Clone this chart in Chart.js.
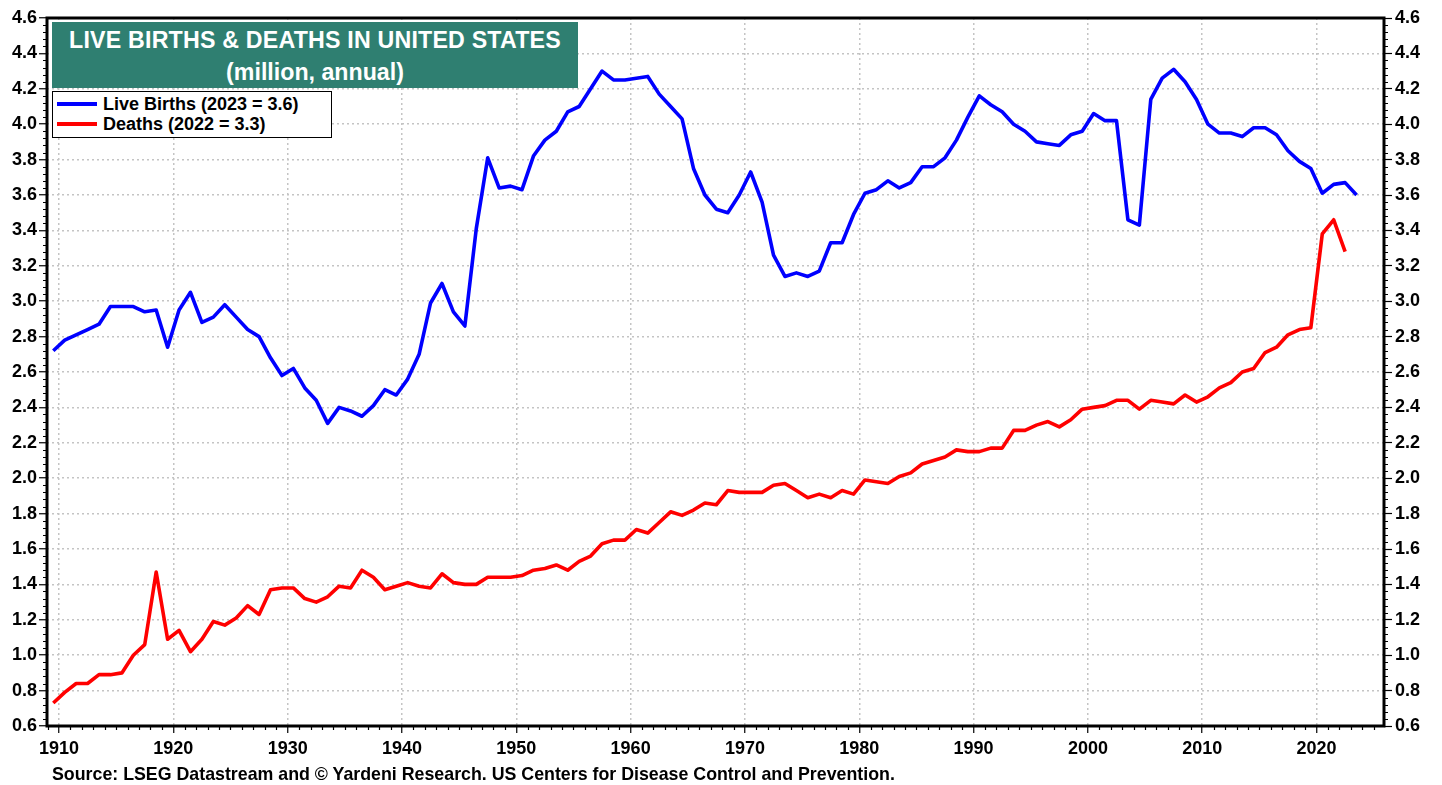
<!DOCTYPE html>
<html>
<head>
<meta charset="utf-8">
<script src="https://cdn.jsdelivr.net/npm/chart.js@4.4.1/dist/chart.umd.min.js"></script>
<style>
  body { margin: 0; background: #fff; }
  #wrap { position: relative; width: 1442px; height: 785px; overflow: hidden; font-family: "Liberation Sans", Arial, sans-serif; }
  #c { position: absolute; left: 0; top: 0; }
  #title { position: absolute; left: 52px; top: 22px; width: 526px; height: 66px; background: #2f7f71; color: #fff; font-weight: bold; font-size: 23.2px; text-align: center; line-height: 32px; }
  #title .l1 { display: block; margin-top: 2px; letter-spacing: 0.2px; }
  #legend { position: absolute; left: 52px; top: 91px; width: 278px; height: 45px; border: 1.5px solid #000; background: #fff; font-weight: bold; font-size: 18px; color: #000; }
  .item { position: absolute; left: 4px; height: 20px; line-height: 20px; white-space: nowrap; }
  .swatch { display: inline-block; width: 40px; height: 4px; vertical-align: middle; margin-right: 6px; position: relative; top: -1px; }
  #source { position: absolute; left: 52px; top: 764px; font-weight: bold; font-size: 17.8px; white-space: nowrap; color: #000; }
</style>
</head>
<body>
<div id="wrap">
  <canvas id="c" width="1442" height="785"></canvas>
  <div id="title"><span class="l1">LIVE BIRTHS &amp; DEATHS IN UNITED STATES</span>(million, annual)</div>
  <div id="legend">
    <div class="item" style="top:2px"><span class="swatch" style="background:#0000ff"></span>Live Births (2023 = 3.6)</div>
    <div class="item" style="top:22px"><span class="swatch" style="background:#ff0000"></span>Deaths (2022 = 3.3)</div>
  </div>
  <div id="source">Source: LSEG Datastream and © Yardeni Research. US Centers for Disease Control and Prevention.</div>
</div>
<script>
const years = [1909,1910,1911,1912,1913,1914,1915,1916,1917,1918,1919,1920,1921,1922,1923,1924,1925,1926,1927,1928,1929,
  1930,1931,1932,1933,1934,1935,1936,1937,1938,1939,1940,1941,1942,1943,1944,1945,1946,1947,1948,1949,
  1950,1951,1952,1953,1954,1955,1956,1957,1958,1959,1960,1961,1962,1963,1964,1965,1966,1967,1968,1969,
  1970,1971,1972,1973,1974,1975,1976,1977,1978,1979,1980,1981,1982,1983,1984,1985,1986,1987,1988,1989,
  1990,1991,1992,1993,1994,1995,1996,1997,1998,1999,2000,2001,2002,2003,2004,2005,2006,2007,2008,2009,
  2010,2011,2012,2013,2014,2015,2016,2017,2018,2019,2020,2021,2022,2023];

const liveBirths = [2.72,2.78,2.81,2.84,2.87,2.97,2.97,2.97,2.94,2.95,2.74,2.95,3.05,2.88,2.91,2.98,2.91,2.84,2.80,2.68,2.58,
  2.62,2.51,2.44,2.31,2.40,2.38,2.35,2.41,2.50,2.47,2.56,2.70,2.99,3.10,2.94,2.86,3.41,3.81,3.64,3.65,
  3.63,3.82,3.91,3.96,4.07,4.10,4.20,4.30,4.25,4.25,4.26,4.27,4.17,4.10,4.03,3.75,3.60,3.52,3.50,3.60,
  3.73,3.56,3.26,3.14,3.16,3.14,3.17,3.33,3.33,3.49,3.61,3.63,3.68,3.64,3.67,3.76,3.76,3.81,3.91,4.04,
  4.16,4.11,4.07,4.00,3.96,3.90,3.89,3.88,3.94,3.96,4.06,4.02,4.02,3.46,3.43,4.14,4.26,4.31,4.24,4.14,
  4.00,3.95,3.95,3.93,3.98,3.98,3.94,3.85,3.79,3.75,3.61,3.66,3.67,3.60];

const deaths = [0.73,0.79,0.84,0.84,0.89,0.89,0.90,1.00,1.06,1.47,1.09,1.14,1.02,1.09,1.19,1.17,1.21,1.28,1.23,1.37,1.38,
  1.38,1.32,1.30,1.33,1.39,1.38,1.48,1.44,1.37,1.39,1.41,1.39,1.38,1.46,1.41,1.40,1.40,1.44,1.44,1.44,
  1.45,1.48,1.49,1.51,1.48,1.53,1.56,1.63,1.65,1.65,1.71,1.69,1.75,1.81,1.79,1.82,1.86,1.85,1.93,1.92,
  1.92,1.92,1.96,1.97,1.93,1.89,1.91,1.89,1.93,1.91,1.99,1.98,1.97,2.01,2.03,2.08,2.10,2.12,2.16,2.15,
  2.15,2.17,2.17,2.27,2.27,2.30,2.32,2.29,2.33,2.39,2.40,2.41,2.44,2.44,2.39,2.44,2.43,2.42,2.47,2.43,
  2.46,2.51,2.54,2.60,2.62,2.71,2.74,2.81,2.84,2.85,3.38,3.46,3.28];

const yTickStep = 0.2;
const yMin = 0.6, yMax = 4.6;
const xTickStep = 10;

const toPoints = (vals) => vals.map((v, i) => ({ x: years[i] + 0.5, y: v }));

const tickFont = { family: "'Liberation Sans', Arial, sans-serif", size: 18, weight: 'bold' };
const gridCol = '#c4c4c4';

const framePlugin = {
  id: 'frame',
  afterDraw(chart) {
    const { ctx, chartArea: a, scales } = chart;
    ctx.save();
    ctx.strokeStyle = '#000';
    ctx.lineWidth = 1.2;
    const ys = scales.y;
    for (let k = 0; k <= 100; k++) {
      if (k % 5 === 0) continue;
      const v = yMin + k * 0.04;
      const py = Math.round(ys.getPixelForValue(v)) + 0.5;
      ctx.beginPath();
      ctx.moveTo(a.left - 4, py); ctx.lineTo(a.left, py);
      ctx.moveTo(a.right, py); ctx.lineTo(a.right + 4, py);
      ctx.stroke();
    }
    const xs = scales.x;
    for (let yr = Math.ceil(xs.min); yr <= Math.floor(xs.max); yr++) {
      if (yr % 10 === 0) continue;
      const px = Math.round(xs.getPixelForValue(yr)) + 0.5;
      ctx.beginPath();
      ctx.moveTo(px, a.bottom); ctx.lineTo(px, a.bottom + 4);
      ctx.stroke();
    }
    ctx.lineWidth = 3;
    ctx.strokeRect(a.left, a.top, a.right - a.left, a.bottom - a.top);
    ctx.restore();
  }
};

new Chart(document.getElementById('c'), {
  type: 'line',
  data: {
    datasets: [
      { label: 'Live Births (2023 = 3.6)', data: toPoints(liveBirths), borderColor: '#0000ff', borderWidth: 3.6, pointRadius: 0, tension: 0, borderJoinStyle: 'round', borderCapStyle: 'butt' },
      { label: 'Deaths (2022 = 3.3)', data: toPoints(deaths), borderColor: '#ff0000', borderWidth: 3.6, pointRadius: 0, tension: 0, borderJoinStyle: 'round', borderCapStyle: 'butt' }
    ]
  },
  options: {
    responsive: false,
    animation: false,
    devicePixelRatio: 1,
    layout: { padding: { top: 18, left: 0, right: 0, bottom: 0 } },
    plugins: { legend: { display: false }, tooltip: { enabled: false }, title: { display: false } },
    scales: {
      x: {
        type: 'linear', position: 'bottom', min: 1908.95, max: 2025.9,
        afterFit: s => { s.height = 59; },
        ticks: { stepSize: xTickStep, includeBounds: false, autoSkip: false, maxRotation: 0, font: tickFont, color: '#000', padding: 5, callback: v => String(v) },
        grid: { color: gridCol, lineWidth: 1.5, drawTicks: true, tickLength: 7, tickColor: '#000', tickWidth: 1.2 },
        border: { display: false, dash: [2, 3] }
      },
      y: {
        type: 'linear', position: 'left', min: yMin, max: yMax,
        afterFit: s => { s.width = 47; },
        ticks: { stepSize: yTickStep, font: tickFont, color: '#000', padding: 2, callback: v => Number(v).toFixed(1) },
        grid: { color: gridCol, lineWidth: 1.5, drawTicks: true, tickLength: 8, tickColor: '#000', tickWidth: 1.2 },
        border: { display: false, dash: [2, 3] }
      },
      y2: {
        type: 'linear', position: 'right', min: yMin, max: yMax,
        afterFit: s => { s.width = 58; },
        ticks: { stepSize: yTickStep, font: tickFont, color: '#000', padding: 3, callback: v => Number(v).toFixed(1) },
        grid: { drawOnChartArea: false, drawTicks: true, tickLength: 8, tickColor: '#000', tickWidth: 1.2 },
        border: { display: false }
      }
    }
  },
  plugins: [framePlugin]
});
</script>
</body>
</html>
